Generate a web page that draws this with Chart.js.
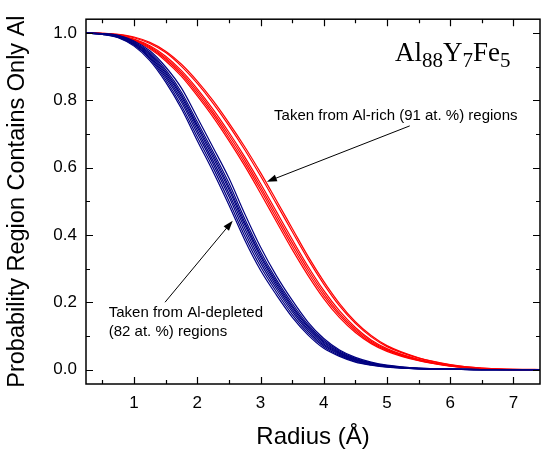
<!DOCTYPE html>
<html>
<head>
<meta charset="utf-8">
<script src="https://cdn.jsdelivr.net/npm/chart.js@4.4.1/dist/chart.umd.min.js"></script>
<style>
html, body { margin: 0; padding: 0; background: #fff; }
</style>
</head>
<body>
<canvas id="chart" width="541" height="452"></canvas>
<script>
// radius sample points (Å)
var radius = [0.24, 0.5, 0.75, 1, 1.25, 1.5, 1.75, 2, 2.25, 2.5, 2.75, 3, 3.25, 3.5, 3.75, 4, 4.25, 4.5, 4.75, 5, 5.5, 6, 6.5, 7, 7.5];

// Al-depleted (82 at. %) regions
var depleted1 = [1.0, .996, .986, .961, .918, .854, .775, .680, .588, .489, .385, .295, .222, .156, .103, .063, .039, .022, .013, .007, .002, .001, 0, 0, 0];
var depleted2 = [1.0, .996, .987, .964, .923, .861, .784, .691, .600, .501, .397, .306, .231, .164, .109, .068, .042, .024, .014, .008, .002, .001, 0, 0, 0];
var depleted3 = [1.0, .996, .988, .966, .927, .868, .794, .702, .611, .514, .409, .317, .240, .172, .115, .072, .045, .026, .016, .009, .002, .001, 0, 0, 0];
var depleted4 = [1.0, .997, .989, .968, .931, .874, .802, .711, .620, .524, .420, .326, .248, .179, .120, .076, .048, .028, .017, .0095, .003, .001, 0, 0, 0];
var depleted5 = [1.0, .997, .990, .970, .935, .880, .810, .720, .630, .535, .430, .335, .255, .185, .125, .080, .050, .030, .018, .010, .003, .001, 0, 0, 0];
var depleted6 = [1.0, .997, .991, .972, .938, .885, .816, .727, .638, .543, .438, .342, .261, .190, .129, .083, .052, .031, .019, .011, .003, .001, 0, 0, 0];
var depleted7 = [1.0, .998, .992, .974, .942, .891, .824, .736, .647, .554, .448, .351, .268, .197, .134, .087, .055, .033, .020, .012, .004, .001, 0, 0, 0];
var depleted8 = [1.0, .998, .993, .976, .947, .899, .836, .749, .660, .569, .463, .364, .279, .206, .141, .092, .058, .036, .022, .013, .004, .001, 0, 0, 0];

// Al-rich (91 at. %) regions
var rich1 = [1.0, .998, .991, .977, .953, .917, .871, .813, .750, .680, .605, .524, .440, .357, .280, .211, .154, .110, .077, .054, .026, .010, .002, 0, 0];
var rich2 = [1.0, .998, .992, .979, .956, .922, .877, .820, .758, .688, .614, .534, .450, .367, .289, .219, .161, .115, .080, .057, .027, .011, .002, 0, 0];
var rich3 = [1.0, .998, .992, .980, .959, .926, .882, .827, .765, .697, .623, .543, .460, .377, .298, .227, .167, .120, .084, .059, .029, .011, .003, 0, 0];
var rich4 = [1.0, .998, .993, .982, .962, .931, .888, .834, .773, .705, .632, .553, .470, .387, .307, .235, .174, .125, .088, .062, .030, .012, .003, 0, 0];
var rich5 = [1.0, .999, .995, .986, .969, .942, .901, .850, .791, .725, .653, .575, .493, .410, .328, .254, .189, .137, .097, .068, .034, .014, .004, 0, 0];
var rich6 = [1.0, .999, .996, .988, .972, .946, .907, .857, .799, .733, .662, .585, .503, .420, .337, .262, .196, .142, .101, .071, .035, .015, .004, .001, 0];

var xTicks = [1, 2, 3, 4, 5, 6, 7];
var yTicks = [0, 0.2, 0.4, 0.6, 0.8, 1.0];

var depletedSets = [depleted1, depleted2, depleted3, depleted4, depleted5, depleted6, depleted7, depleted8];
var richSets = [rich1, rich2, rich3, rich4, rich5, rich6];

function toPoints(vals) {
  return vals.map(function (v, i) { return { x: radius[i], y: v }; });
}

var datasets = [];
depletedSets.forEach(function (s) {
  datasets.push({ data: toPoints(s), borderColor: '#000080', borderWidth: 1.2 });
});
richSets.forEach(function (s) {
  datasets.push({ data: toPoints(s), borderColor: '#ff0000', borderWidth: 1.2 });
});

var sans = '"Liberation Sans", Arial, sans-serif';
var serif = '"Liberation Serif", "Times New Roman", serif';

function arrow(ctx, x1, y1, x2, y2) {
  var a = Math.atan2(y2 - y1, x2 - x1);
  var len = 10, hw = 3.5;
  ctx.beginPath();
  ctx.moveTo(x1, y1);
  ctx.lineTo(x2 - Math.cos(a) * len * 0.8, y2 - Math.sin(a) * len * 0.8);
  ctx.stroke();
  ctx.beginPath();
  ctx.moveTo(x2, y2);
  ctx.lineTo(x2 - Math.cos(a) * len - Math.sin(a) * hw, y2 - Math.sin(a) * len + Math.cos(a) * hw);
  ctx.lineTo(x2 - Math.cos(a) * len + Math.sin(a) * hw, y2 - Math.sin(a) * len - Math.cos(a) * hw);
  ctx.closePath();
  ctx.fill();
}

var frameTicks = {
  id: 'frameTicks',
  afterDraw: function (chart) {
    var ctx = chart.ctx, a = chart.chartArea;
    var xs = chart.scales.x, ys = chart.scales.y;
    ctx.save();
    ctx.strokeStyle = '#000';
    ctx.lineWidth = 1.5;
    ctx.strokeRect(a.left, a.top, a.right - a.left, a.bottom - a.top);
    ctx.lineWidth = 1.2;
    ctx.beginPath();
    for (var v = 0.5; v <= 7.4; v += 0.5) {
      var px = Math.round(xs.getPixelForValue(v)) + 0.5;
      var len = (v % 1 === 0) ? 7 : 4;
      ctx.moveTo(px, a.bottom); ctx.lineTo(px, a.bottom - len);
      ctx.moveTo(px, a.top); ctx.lineTo(px, a.top + len);
    }
    for (var k = 0; k <= 10; k++) {
      var yv = k / 10;
      var py = Math.round(ys.getPixelForValue(yv)) + 0.5;
      var l2 = (k % 2 === 0) ? 7 : 4;
      ctx.moveTo(a.left, py); ctx.lineTo(a.left + l2, py);
      ctx.moveTo(a.right, py); ctx.lineTo(a.right - l2, py);
    }
    ctx.stroke();
    ctx.restore();
  }
};

var notes = {
  id: 'notes',
  afterDatasetsDraw: function (chart) {
    var ctx = chart.ctx, a = chart.chartArea;
    var xs = chart.scales.x, ys = chart.scales.y;
    function X(v) { return xs.getPixelForValue(v); }
    function Y(v) { return ys.getPixelForValue(v); }
    ctx.save();
    ctx.fillStyle = '#000';
    ctx.strokeStyle = '#000';
    ctx.lineWidth = 1;
    ctx.font = '15px ' + sans;
    ctx.textBaseline = 'middle';
    ctx.textAlign = 'center';
    ctx.fillText('Taken from Al-rich (91 at. %) regions', X(5.14), Y(0.755));
    ctx.textAlign = 'left';
    ctx.fillText('Taken from Al-depleted', X(0.6), Y(0.168));
    ctx.fillText('(82 at. %) regions', X(0.6), Y(0.113));
    arrow(ctx, X(5.36), Y(0.724), X(3.1), Y(0.558));
    arrow(ctx, X(1.49), Y(0.2), X(2.56), Y(0.442));

    // composition label
    var x0 = a.right - 145, base = a.top + 42;
    ctx.textBaseline = 'alphabetic';
    var parts = [['Al', 27, 0], ['88', 21, 6], ['Y', 27, 0], ['7', 21, 6], ['Fe', 27, 0], ['5', 21, 6]];
    parts.forEach(function (p) {
      ctx.font = p[1] + 'px ' + serif;
      ctx.fillText(p[0], x0, base + p[2]);
      x0 += ctx.measureText(p[0]).width;
    });
    ctx.restore();
  }
};

new Chart(document.getElementById('chart'), {
  type: 'line',
  data: { datasets: datasets },
  plugins: [frameTicks, notes],
  options: {
    responsive: false,
    animation: false,
    layout: { padding: { left: 0, top: 13, right: 1, bottom: 0 } },
    elements: {
      point: { radius: 0 },
      line: { cubicInterpolationMode: 'monotone', fill: false }
    },
    plugins: { legend: { display: false }, tooltip: { enabled: false } },
    scales: {
      x: {
        type: 'linear',
        min: 0.24,
        max: 7.42,
        afterBuildTicks: function (scale) {
          scale.ticks = xTicks.map(function (v) { return { value: v }; });
        },
        afterFit: function (scale) { scale.height = 68; },
        grid: { display: false, drawTicks: false },
        border: { display: false },
        ticks: { color: '#000', padding: 9, font: { size: 17, family: sans }, maxRotation: 0 },
        title: { display: true, text: 'Radius (Å)', color: '#000', padding: 0, font: { size: 24, family: sans } }
      },
      y: {
        type: 'linear',
        min: -0.043,
        max: 1.041,
        afterBuildTicks: function (scale) {
          scale.ticks = yTicks.map(function (v) { return { value: v }; });
        },
        afterFit: function (scale) { scale.width = 86; },
        grid: { display: false, drawTicks: false },
        border: { display: false },
        ticks: {
          color: '#000', padding: 9, font: { size: 17, family: sans },
          callback: function (v) { return v.toFixed(1); }
        },
        title: { display: true, text: 'Probability Region Contains Only Al', color: '#000', padding: { top: 3, bottom: 0 }, font: { size: 23.5, family: sans } }
      }
    }
  }
});
</script>
</body>
</html>
